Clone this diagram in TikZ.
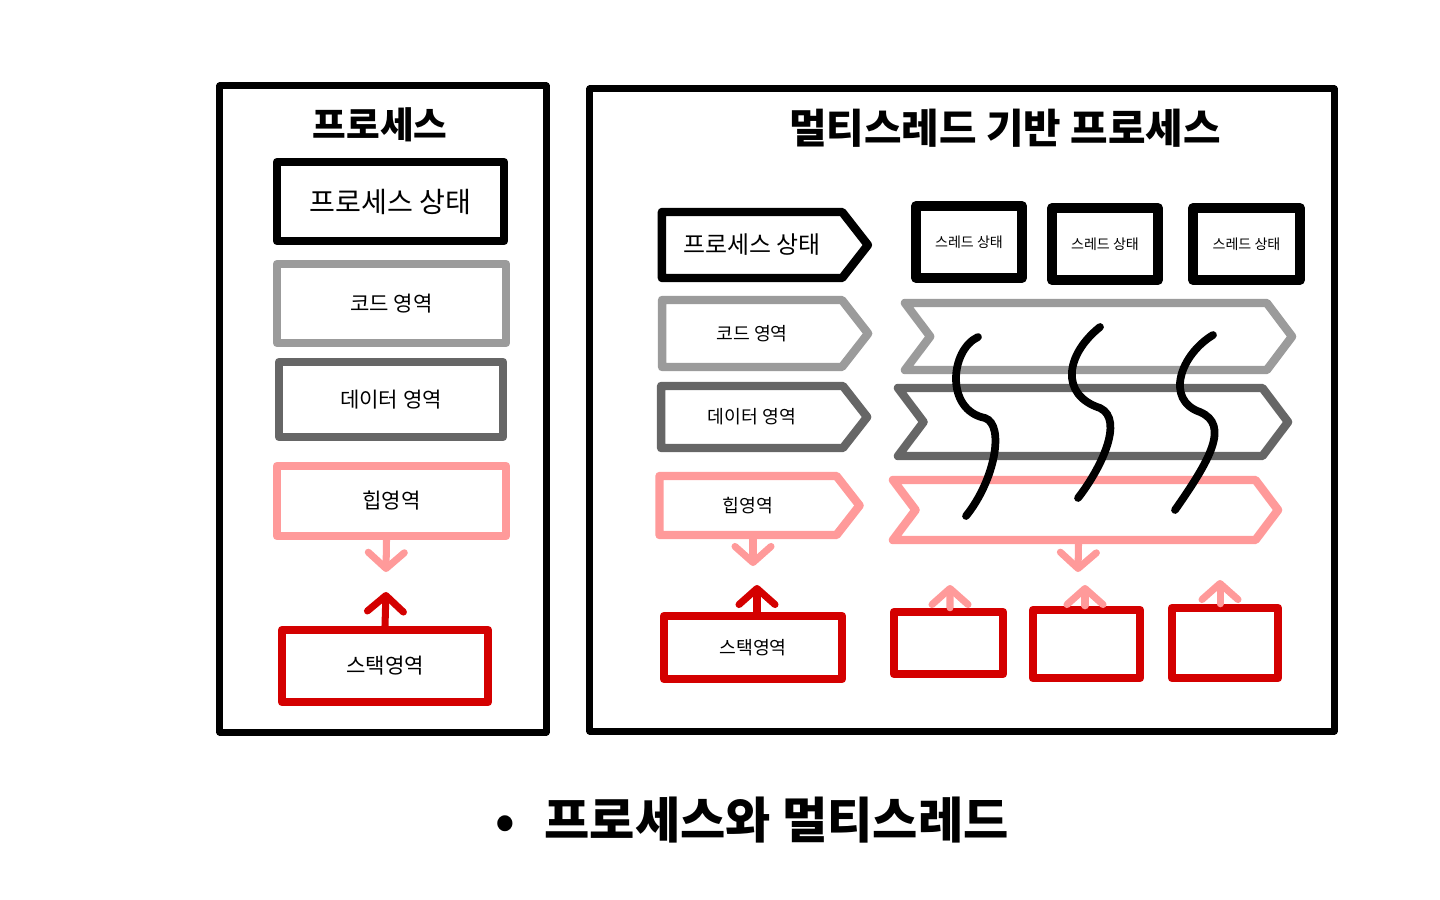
\documentclass[tikz,border=0pt]{standalone}
\usepackage{fontspec}
\setmainfont{Noto Sans CJK KR}
\usetikzlibrary{arrows.meta,shapes.symbols,calc}

\definecolor{codegray}{HTML}{9B9B9B}
\definecolor{datagray}{HTML}{666666}
\definecolor{heappink}{HTML}{FF9A9A}
\definecolor{stackred}{HTML}{D40000}

\begin{document}
\begin{tikzpicture}[
        x=0.025cm,
        y=-0.025cm,
        outer frame/.style={
            rectangle,draw=black,line width=5pt,line join=round,inner sep=0pt
        },
        area box/.style={
            rectangle,draw=#1,line width=6pt,line join=round,inner sep=0pt
        },
        area sign/.style={
            signal,signal to=east,draw=#1,line width=6pt,line join=round,
            inner sep=0pt,signal pointer angle=104
        },
        thread sign/.style={
            signal,signal to=east,signal from=west,draw=#1,line width=6pt,
            line join=round,inner sep=0pt,signal pointer angle=106
        },
        state box/.style={
            rectangle,draw=black,line width=7pt,line join=round,inner sep=0pt
        },
        flow/.style={
            draw=#1,line width=5pt,line cap=round,
            -{Straight Barb[length=4mm,width=9mm,round]}
        },
        thread line/.style={draw=black,line width=5.5pt,line cap=round}
    ]
        \useasboundingbox (0,0) rectangle (1440,900);

        % The single process on the left.
        \node[outer frame,minimum width=8.15cm,minimum height=16.15cm]
            (procframe) at (383,409) {};
        \node[font=\bfseries\fontsize{26}{30}\selectfont] (proctitle) at (380,125) {프로세스};
        \node[area box=black,minimum width=5.675cm,minimum height=1.975cm,
            font=\fontsize{20}{24}\selectfont] (pstate) at (390.5,201.5) {프로세스 상태};
        \node[area box=codegray,minimum width=5.725cm,minimum height=1.975cm,
            font=\fontsize{15}{18}\selectfont] (pcode) at (391.5,303.5) {코드 영역};
        \node[area box=datagray,minimum width=5.6cm,minimum height=1.875cm,
            font=\fontsize{15}{18}\selectfont] (pdata) at (391,399.5) {데이터 영역};
        \node[area box=heappink,minimum width=5.725cm,minimum height=1.75cm,
            font=\fontsize{15}{18}\selectfont] (pheap) at (391.5,501) {힙영역};
        \node[area box=stackred,minimum width=5.15cm,minimum height=1.8cm,
            font=\fontsize{15}{18}\selectfont] (pstack) at (385,666) {스택영역};
        \coordinate (pheapend) at (386,572);
        \coordinate (pstackend) at (386,592);
        \draw[flow=heappink] ($(pheap.south)+(-5,0)$) -- (pheapend);
        \draw[flow=stackred] (pstack.north) -- (pstackend);

        % The multithreaded process on the right.
        \node[outer frame,minimum width=18.6cm,minimum height=16.05cm]
            (mtframe) at (962,410) {};
        \node[font=\bfseries\fontsize{29}{34}\selectfont] (mttitle) at (1005,128)
            {멀티스레드 기반 프로세스};
        \node[area sign=black,minimum width=5.15cm,minimum height=1.65cm,
            font=\fontsize{17}{21}\selectfont] (mstate) at (752,245) {프로세스 상태};
        \node[area sign=codegray,minimum width=5.15cm,minimum height=1.675cm,
            font=\fontsize{13}{16}\selectfont] (mcode) at (752,333.5) {코드 영역};
        \node[area sign=datagray,minimum width=5.15cm,minimum height=1.55cm,
            font=\fontsize{13}{16}\selectfont] (mdata) at (752,417) {데이터 영역};
        \node[area sign=heappink,minimum width=5cm,minimum height=1.475cm,
            font=\fontsize{13}{16}\selectfont] (mheap) at (748,505.5) {힙영역};
        \node[area box=stackred,minimum width=4.45cm,minimum height=1.575cm,
            font=\fontsize{13}{16}\selectfont] (mstack) at (753,647.5) {스택영역};
        \coordinate (mheapend) at (753,566);
        \coordinate (mstackend) at (757,585);
        \draw[flow=heappink] ($(mheap.south)+(5,0)$) -- (mheapend);
        \draw[flow=stackred] ($(mstack.north)+(4,0)$) -- (mstackend);

        % One state box per thread.
        \node[state box,minimum width=2.65cm,minimum height=1.8cm,
            font=\fontsize{10}{12}\selectfont] (tstate1) at (969,242) {스레드 상태};
        \node[state box,minimum width=2.65cm,minimum height=1.8cm,
            font=\fontsize{10}{12}\selectfont] (tstate2) at (1105,244) {스레드 상태};
        \node[state box,minimum width=2.675cm,minimum height=1.8cm,
            font=\fontsize{10}{12}\selectfont] (tstate3) at (1246.5,244) {스레드 상태};

        % Shared areas.
        \node[thread sign=codegray,minimum width=9.675cm,minimum height=1.675cm]
            (scode) at (1098.5,336.5) {};
        \node[thread sign=datagray,minimum width=9.75cm,minimum height=1.7cm]
            (sdata) at (1093,422) {};
        \node[thread sign=heappink,minimum width=9.625cm,minimum height=1.5cm]
            (sheap) at (1085.5,510) {};

        % The threads themselves.
        \draw[thread line] (978,337)
            .. controls (950,350) and (945,410) .. (985,418)
            .. controls (1005,425) and (995,480) .. (966,516);
        \draw[thread line] (1100,327)
            .. controls (1065,355) and (1060,395) .. (1100,408)
            .. controls (1125,420) and (1100,470) .. (1078,498);
        \draw[thread line] (1213,335)
            .. controls (1180,355) and (1165,400) .. (1200,412)
            .. controls (1230,425) and (1210,460) .. (1175,510);

        % One stack per thread.
        \node[area box=stackred,minimum width=2.725cm,minimum height=1.55cm]
            (tstack1) at (948.5,643) {};
        \node[area box=stackred,minimum width=2.675cm,minimum height=1.7cm]
            (tstack2) at (1086.5,644) {};
        \node[area box=stackred,minimum width=2.65cm,minimum height=1.75cm]
            (tstack3) at (1225,643) {};
        \coordinate (sheapend) at (1078,572);
        \draw[flow=heappink] ($(sheap.south)+(-7,0)$) -- (sheapend);
        \coordinate (tstackend1) at (950,585);
        \coordinate (tstackend2) at (1085,585);
        \coordinate (tstackend3) at (1220,580);
        \draw[flow=heappink] ($(tstack1.north)+(1.5,0)$) -- (tstackend1);
        \draw[flow=heappink] ($(tstack2.north)+(-1.5,0)$) -- (tstackend2);
        \draw[flow=heappink] ($(tstack3.north)+(-5,0)$) -- (tstackend3);

        % Caption.
        \node[font=\bfseries\fontsize{35}{42}\selectfont] (caption) at (752,820)
            {•\hspace{0.6em}프로세스와 멀티스레드};
    \end{tikzpicture}
\end{document}
